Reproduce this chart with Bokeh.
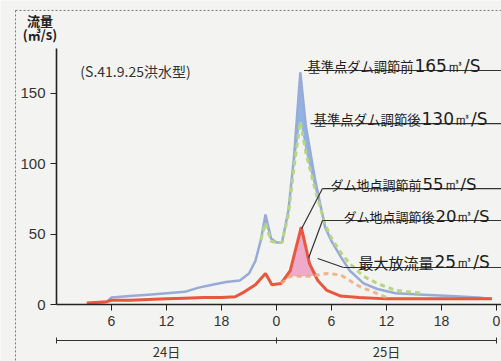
import numpy as np
from bokeh.plotting import figure
from bokeh.models import FixedTicker, LinearAxis, Range1d, ColumnDataSource
from bokeh.core.properties import value
from bokeh.embed import file_html
from bokeh.resources import INLINE

# ---- data (time in hours from 24日 0時, flow in m3/s) ----
hours_base = [4, 5.5, 6, 8, 10, 12, 14, 15.5, 17, 18.5, 20, 21, 21.7, 22.3, 22.8, 23.4, 24, 24.6,
              25.3, 25.9, 26.6, 27.2, 28.2, 29.3, 30, 31, 32, 33.5, 35, 37, 40, 43, 46, 47.5]
flow_base_before = [1, 2, 5, 6, 7, 8, 9, 12, 14, 16, 17, 22, 31, 46, 64, 47, 44, 44,
                    67, 104, 165, 127, 89, 55, 45, 34, 24, 15, 11, 8, 7, 6, 5, 4]
hours_base_after = [22.3, 22.8, 23.4, 24, 24.6, 25.3, 25.9, 26.6, 27.2, 28.2, 29.3, 30, 31, 32,
                    33.5, 35, 37, 40]
flow_base_after = [46, 58, 45, 44, 44, 64, 97, 130, 108, 82, 57, 47, 37, 29, 20, 15, 10, 8]
flow_base_before_on_after = [46, 64, 47, 44, 44, 67, 104, 165, 127, 89, 55, 45, 34, 24, 15, 11, 8, 7]

hours_dam = [3.3, 5.5, 6, 8, 10, 12, 14, 16, 18, 19.5, 20.5, 21.7, 22.8, 23.5, 24.5, 25.5, 26.7,
             27.6, 28.5, 29.5, 31, 33, 36, 40, 44, 47.5]
flow_dam_before = [1, 2, 3, 3, 3.5, 4, 4.5, 5, 5, 5.5, 9, 14, 22, 14, 15, 24, 55,
                   29, 17, 10, 6, 5, 4, 4, 4, 4]
hours_dam_after = [24.5, 25.5, 26.7, 27.6, 28.5, 29.5, 31, 33, 36]
flow_dam_after = [15, 20, 20, 20, 21, 22, 21, 13, 5]
flow_dam_before_on_after = [15, 24, 55, 29, 17, 10, 6, 5, 4]

x_ticks = [6, 12, 18, 24, 30, 36, 42, 48]
x_tick_labels = ["6", "12", "18", "0", "6", "12", "18", "0"]
y_ticks = [0, 50, 100, 150]
day_centers = [12, 36]
day_labels = ["24日", "25日"]
note_names = ["基準点ダム調節前", "基準点ダム調節後", "ダム地点調節前", "ダム地点調節後", "最大放流量"]
note_values = [165, 130, 55, 20, 25]
note_unit = "㎥/S"
flood_title = "(S.41.9.25洪水型)"
unit_title = ["流量", "(㎥/s)"]

# ---- layout (annotation placement, not data) ----
X0, X1 = -6.109, 48.545
Y0, Y1 = -40.51, 216.06
name_x = [27.38, 28.04, 29.89, 31.31, 32.94]
value_x = [39.05, 39.82, 39.93, 41.34, 41.24]
note_y = [169.5, 131.5, 85.3, 62.5, 29.9]
name_size = ["13.25px", "13.4px", "13px", "13px", "15px"]
value_size = ["17px", "17px", "16.5px", "16.5px", "17px"]
ul_x0 = [27.0, 27.71, 29.02, 29.02, 31.31]
ul_y = [166.3, 128.6, 82.4, 59.7, 26.3]
lead_x0 = [29.02, 29.02, 31.31]
lead_y0 = [82.4, 59.7, 26.3]
lead_x1 = [26.75, 27.5, 28.5]
lead_y1 = [54, 33, 32.7]

BG = "#f3f3f1"
JP = "Noto Sans CJK JP"
NUM = "Liberation Sans"
VAL = "DejaVu Sans"

p = figure(width=501, height=361, x_range=Range1d(X0, X1), y_range=Range1d(Y0, Y1),
           output_backend="svg", toolbar_location=None, title=None,
           min_border=0, min_border_left=0, min_border_right=0, min_border_top=0,
           min_border_bottom=0,
           background_fill_color=BG, border_fill_color=BG, outline_line_color=None)
p.grid.visible = False

# scanned frame border (dashed)
p.line([-4.47, X1 + 1], [209.0, 209.0], line_color="#777777", line_dash="2 2", line_width=1)
p.line([-4.47, -4.47], [209.0, Y0 - 1], line_color="#777777", line_dash="2 2", line_width=1)

# fills
after_min = np.minimum(np.array(flow_base_after), np.array(flow_base_before_on_after))
p.varea(x=hours_base_after[:11], y1=after_min[:11], y2=flow_base_before_on_after[:11],
        fill_color="#6d9ee0", fill_alpha=0.75)
dam_max = np.maximum(np.array(flow_dam_before_on_after), np.array(flow_dam_after))
p.varea(x=hours_dam_after[:5], y1=flow_dam_after[:5], y2=dam_max[:5],
        fill_color="#ec9cc4", fill_alpha=0.85)

# lines
p.line(hours_base, flow_base_before, line_color="#97abd6", line_width=2.5)
p.line(hours_base_after, flow_base_after, line_color="#b8d682", line_width=3, line_dash="5 4")
p.line(hours_dam, flow_dam_before, line_color="#e9573f", line_width=3)
p.line(hours_dam_after, flow_dam_after, line_color="#ecaa7a", line_width=3, line_dash="5 4",
       line_alpha=0.85)

# annotation leaders and underlines
p.segment(x0=ul_x0, y0=ul_y, x1=[X1 + 1] * len(ul_y), y1=ul_y, line_color="#333", line_width=1.2)
p.segment(x0=lead_x0, y0=lead_y0, x1=lead_x1, y1=lead_y1, line_color="#333", line_width=1.2)

src = ColumnDataSource(dict(nx=name_x, vx=value_x, y=note_y, n=note_names,
                            v=[f"{v}{note_unit}" for v in note_values],
                            ns=name_size, vs=value_size))
p.text(x="nx", y="y", text="n", source=src, text_font=value(JP), text_font_size="ns",
       text_color="#1e1e1e", text_baseline="alphabetic", text_align="left")
p.text(x="vx", y="y", text="v", source=src, text_font=value(VAL), text_font_size="vs",
       text_color="#1e1e1e", text_baseline="alphabetic", text_align="left")

p.text(x=[2.6], y=[166.3], text=[flood_title], text_font=value(JP), text_font_size="14px",
       text_color="#333", text_baseline="middle", text_align="left")
p.text(x=[-1.8, -1.8], y=[201.8, 191.9], text=unit_title, text_font=value(JP),
       text_font_size="13px", text_font_style="bold", text_color="#222",
       text_baseline="middle", text_align="center")
p.text(x=day_centers, y=[-33.4] * 2, text=day_labels, text_font=value(JP),
       text_font_size="13px", text_color="#333", text_baseline="middle", text_align="center")

# axes
ya = p.yaxis[0]
ya.fixed_location = 0
ya.ticker = FixedTicker(ticks=y_ticks)
ya.bounds = (0, 182)
ya.major_tick_out = 6
ya.major_tick_in = 0
ya.minor_tick_out = 0
ya.minor_tick_in = 0
ya.axis_line_width = 1.6
ya.axis_line_color = "#222"
ya.major_tick_line_color = "#222"
ya.major_label_text_font = NUM
ya.major_label_text_font_size = "15px"
ya.major_label_text_color = "#333"
ya.major_label_standoff = 5

xa = p.xaxis[0]
xa.fixed_location = 0
xa.ticker = FixedTicker(ticks=x_ticks)
xa.bounds = (0, X1)
xa.major_label_overrides = {t: l for t, l in zip(x_ticks, x_tick_labels)}
xa.major_tick_out = 6
xa.major_tick_in = 0
xa.minor_tick_out = 0
xa.minor_tick_in = 0
xa.axis_line_width = 1.6
xa.axis_line_color = "#222"
xa.major_tick_line_color = "#222"
xa.major_label_text_font = NUM
xa.major_label_text_font_size = "14px"
xa.major_label_text_color = "#333"
xa.major_label_standoff = 5

da = LinearAxis(fixed_location=-25.59, ticker=FixedTicker(ticks=[], minor_ticks=[0, 24, 48]),
                bounds=(0, 48))
da.major_tick_out = 0
da.major_tick_in = 0
da.minor_tick_out = 3
da.minor_tick_in = 3
da.axis_line_color = "#333"
da.minor_tick_line_color = "#333"
da.major_label_text_font_size = "0px"
p.add_layout(da, "below")

open("out.html", "w").write(file_html(p, INLINE))
